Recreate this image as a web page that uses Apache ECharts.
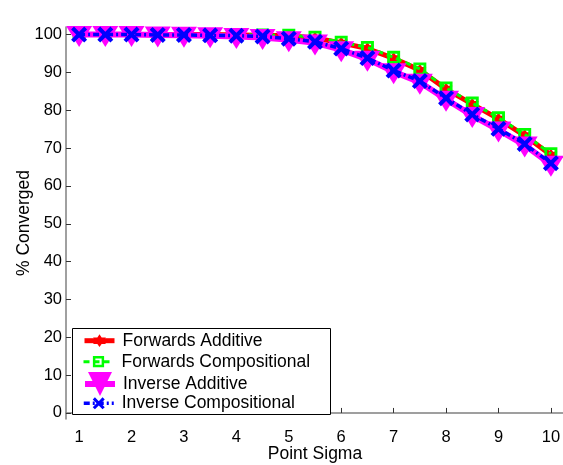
<!DOCTYPE html>
<html><head><meta charset="utf-8">
<script src="https://cdn.jsdelivr.net/npm/echarts@6/dist/echarts.min.js"></script>
<style>html,body{margin:0;padding:0;background:#fff}#c{width:563px;height:465px}</style>
</head><body><div id="c"></div>
<script>
const sigma = [1,1.5,2,2.5,3,3.5,4,4.5,5,5.5,6,6.5,7,7.5,8,8.5,9,9.5,10];
const forwardsAdditive      = [100,100,100,100,100,100,99.9,99.8,99.7,99.1,97.8,96.3,93.7,90.6,85.6,81.6,77.7,73.3,68.2];
const forwardsCompositional = [100,100,100,100,100,100,100,99.9,99.8,99.3,98.0,96.6,94.0,90.9,85.9,81.9,78.0,73.6,68.5];
const inverseAdditive       = [100,100,100,99.9,99.8,99.7,99.5,99.2,98.6,97.8,96.0,93.5,90.2,87.4,82.9,78.6,74.8,70.8,65.7];
const inverseCompositional  = [100,100,100,99.9,99.9,99.8,99.7,99.5,98.9,98.1,96.3,93.8,90.5,87.7,83.2,78.9,75.1,71.1,66.0];
const seriesNames = ['Forwards Additive','Forwards Compositional','Inverse Additive','Inverse Compositional'];
const xTicks = [1,2,3,4,5,6,7,8,9,10];
const yTicks = [0,10,20,30,40,50,60,70,80,90,100];

const FONT = 'Liberation Sans';
const STAR = 'path://M10,0 L12.9,5 18.7,5 15.8,10 18.7,15 12.9,15 10,20 7.1,15 1.3,15 4.2,10 1.3,5 7.1,5Z';
const HSQ = 'path://M0,0 L10,0 L10,10 L0,10 Z M2.2,2.2 L2.2,7.8 L7.8,7.8 L7.8,2.2 Z';
const XM = 'path://M0,1.8 L1.8,0 L5,3.2 L8.2,0 L10,1.8 L6.8,5 L10,8.2 L8.2,10 L5,6.8 L1.8,10 L0,8.2 L3.2,5 Z';

const pairs = arr => sigma.map((s,i)=>[s, arr[i]]);
const values = [forwardsAdditive, forwardsCompositional, inverseAdditive, inverseCompositional];
const colors = ['#ff0000','#00ff00','#ff00ff','#0000ff'];
const symbols = [STAR, HSQ, 'triangle', XM];
const symSizes = [13, 13, [26,21], 16];
const symRot = [0,0,180,0];
const symOff = [[0,0],[0,0],[0,2],[0,0]];
const lineW = [5, 3, 6, 3.5];
const lineT = ['solid', [6,4], 'solid', [6,3,2,3]];

const legendIconH = [16, 14, 30, 15];
const legendTops = [331.7, 352.7, 372, 394.3];

const chart = echarts.init(document.getElementById('c'), null, {renderer:'canvas'});
chart.setOption({
  animation: false,
  backgroundColor: '#fff',
  grid: {left: 66, right: -1, top: 27, bottom: 46, containLabel: false, outerBoundsMode: 'none'},
  xAxis: {
    type: 'value', min: 0.75, max: 10.25,
    name: 'Point Sigma', nameLocation: 'middle', nameGap: 26, nameMoveOverlap: false,
    nameTextStyle: {fontFamily: FONT, fontSize: 17.5, color: '#000'},
    axisLine: {show: true, lineStyle: {color: '#808080', width: 1.5}},
    axisTick: {show: true, inside: true, length: 5, customValues: xTicks, lineStyle: {color: '#333', width: 1}},
    axisLabel: {customValues: xTicks, fontFamily: FONT, fontSize: 16.5, color: '#000', margin: 10},
    splitLine: {show: false}
  },
  yAxis: {
    type: 'value', min: -1.6, max: 102,
    name: '% Converged', nameLocation: 'middle', nameGap: 33, nameMoveOverlap: false,
    nameTextStyle: {fontFamily: FONT, fontSize: 17.5, color: '#000'},
    axisLine: {show: true, lineStyle: {color: '#808080', width: 1.5}},
    axisTick: {show: true, inside: true, length: 5, customValues: yTicks, lineStyle: {color: '#333', width: 1}},
    axisLabel: {customValues: yTicks, fontFamily: FONT, fontSize: 16.5, color: '#000', margin: 4},
    splitLine: {show: false}
  },
  graphic: [{
    type: 'rect', z: 3,
    shape: {x: 72.5, y: 328.5, width: 258, height: 86},
    style: {fill: '#fff', stroke: '#000', lineWidth: 1}
  }],
  legend: seriesNames.map((n,i)=>({
    data: [n], left: 82, top: legendTops[i],
    orient: 'vertical', padding: 0, itemWidth: 30, itemHeight: legendIconH[i],
    selectedMode: false, z: 5,
    textStyle: {fontFamily: FONT, fontSize: 17.5, color: '#000', padding: [0,0,0,3]},
    lineStyle: {width: 'inherit'}
  })),
  series: seriesNames.map((n,i)=>({
    name: n, type: 'line', data: pairs(values[i]),
    symbol: symbols[i], symbolSize: symSizes[i], symbolRotate: symRot[i], symbolOffset: symOff[i],
    showSymbol: true, showAllSymbol: true,
    lineStyle: {color: colors[i], width: lineW[i], type: lineT[i]},
    itemStyle: {color: colors[i]},
    emphasis: {disabled: true},
    z: 2 + i*0.01
  }))
});
</script></body></html>
